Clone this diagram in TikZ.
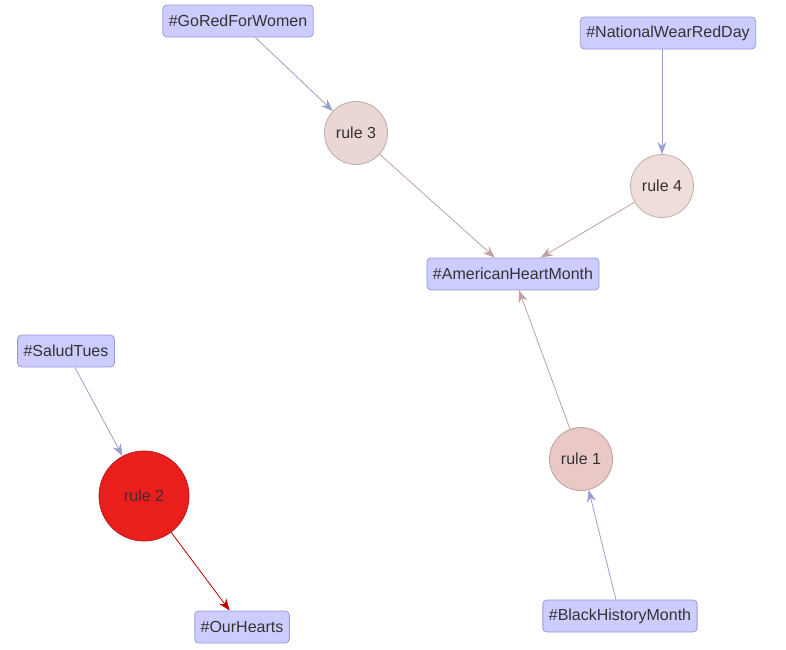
\documentclass[tikz,border=0pt]{standalone}
\usepackage{fontspec}
\setmainfont{Liberation Sans}
\usetikzlibrary{arrows.meta}

\definecolor{tagfill}{HTML}{CCCCFF}
\definecolor{tagline}{HTML}{9999DD}
\definecolor{inarrow}{HTML}{99A0CC}
\definecolor{outarrow}{HTML}{C0A0A0}
\definecolor{ruleone}{RGB}{234,200,198}
\definecolor{ruletwo}{RGB}{235,30,30}
\definecolor{rulethree}{RGB}{234,214,212}
\definecolor{rulefour}{RGB}{238,221,217}

\begin{document}
\begin{tikzpicture}[x=1pt, y=-1pt,
        tag/.style = {shape = rectangle, rounded corners = 4pt, draw = tagline, fill = tagfill, thick, font = \fontsize{16}{18}\selectfont, text = black!80, inner xsep = 6pt, minimum height = 32pt},
        rulenode/.style = {shape = circle, draw = #1!80!black, fill = #1, thick, font = \fontsize{16}{18}\selectfont, text = black!80, minimum size = 63pt, inner sep = 0pt},
        inedge/.style = {draw = inarrow, thick, -{Stealth[length = 12pt, width = 9pt]}},
        outedge/.style = {draw = outarrow, thick, -{Stealth[length = 12pt, width = 9pt]}},
    ]
    \useasboundingbox (0,0) rectangle (786,649);
    \node[tag] (gored) at (238,21) {\#GoRedForWomen};
    \node[tag] (wearred) at (668,33) {\#NationalWearRedDay};
    \node[tag] (heart) at (513,274) {\#AmericanHeartMonth};
    \node[tag] (salud) at (66,351) {\#SaludTues};
    \node[tag] (ourhearts) at (242,627) {\#OurHearts};
    \node[tag] (black) at (620,616) {\#BlackHistoryMonth};

    \node[rulenode = rulethree] (r3) at (356,133) {rule 3};
    \node[rulenode = rulefour] (r4) at (662,186) {rule 4};
    \node[rulenode = ruleone] (r1) at (581,459) {rule 1};
    \node[rulenode = ruletwo, minimum size = 90pt] (r2) at (144,496) {rule 2};

    \draw[inedge] (gored) -- (r3);
    \draw[inedge] (wearred.south -| r4) -- (r4);
    \draw[inedge] (salud) -- (r2);
    \draw[inedge] (black) -- (r1);
    \draw[outedge] (r3) -- (heart);
    \draw[outedge] (r4) -- (heart);
    \draw[outedge] (r1) -- (heart);
    \draw[draw = red!75!black, thick, -{Stealth[length = 12pt, width = 9pt]}] (r2) -- (ourhearts);
\end{tikzpicture}
\end{document}
